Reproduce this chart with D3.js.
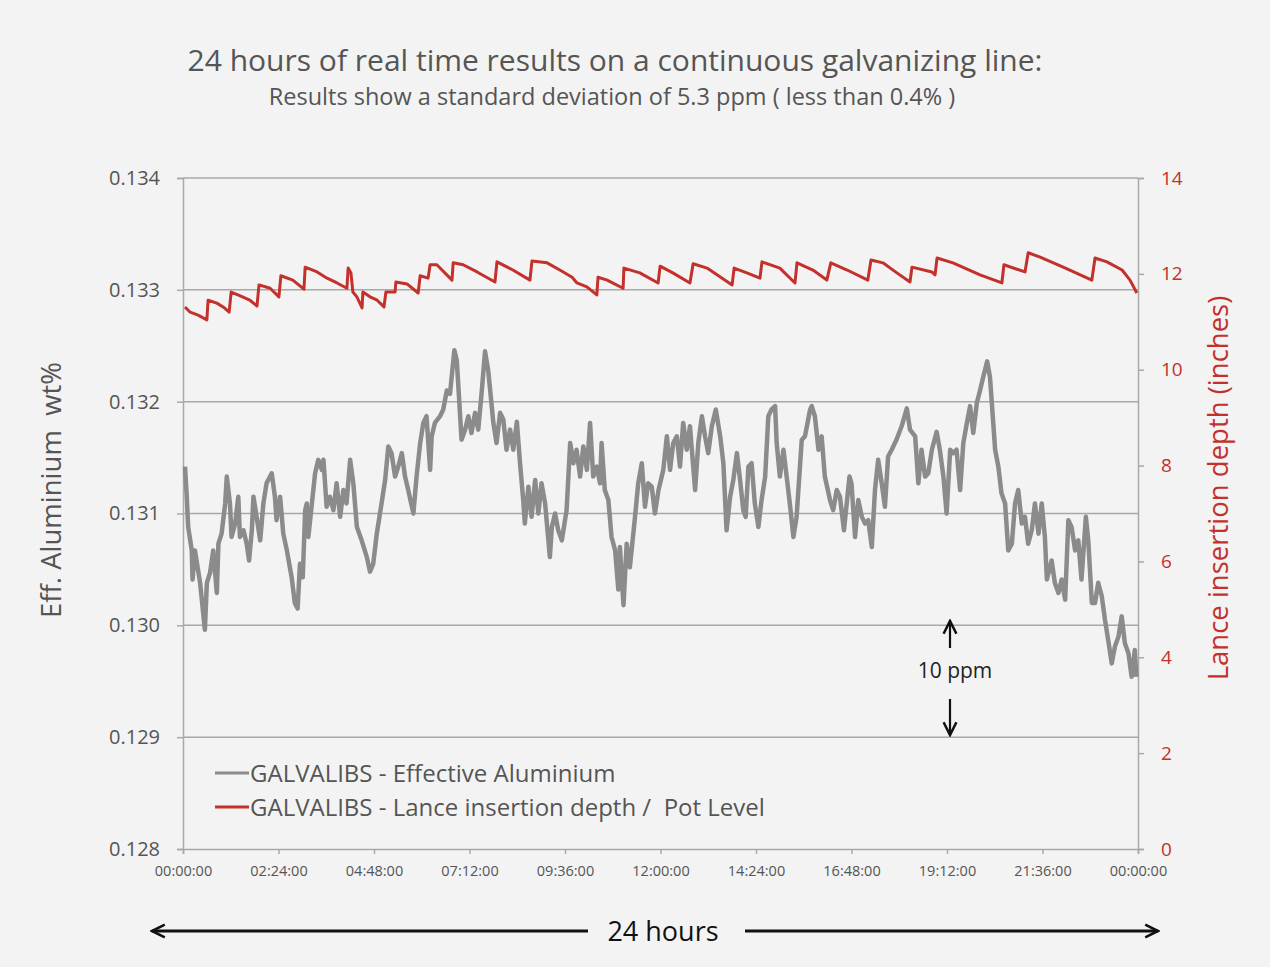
<!DOCTYPE html>
<html>
<head>
<meta charset="utf-8">
<script src="https://cdn.jsdelivr.net/npm/d3@7"></script>
<style>
html,body{margin:0;padding:0;background:#f3f3f3;}
svg{display:block;}
text{font-family:"Open Sans",sans-serif;white-space:pre;}
</style>
</head>
<body>
<svg id="chart" width="1270" height="967"></svg>
<script>
// ---- Data ----
const titleText = "24 hours of real time results on a continuous galvanizing line:";
const subtitleText = "Results show a standard deviation of 5.3 ppm ( less than 0.4% )";
const leftTicks = [0.128, 0.129, 0.130, 0.131, 0.132, 0.133, 0.134];
const rightTicks = [0, 2, 4, 6, 8, 10, 12, 14];
const timeTicks = [0, 2.4, 4.8, 7.2, 9.6, 12, 14.4, 16.8, 19.2, 21.6, 24];
const timeLabels = ["00:00:00","02:24:00","04:48:00","07:12:00","09:36:00","12:00:00","14:24:00","16:48:00","19:12:00","21:36:00","00:00:00"];
const seriesNames = ["GALVALIBS - Effective Aluminium", "GALVALIBS - Lance insertion depth /  Pot Level"];

// Effective aluminium (wt%) vs time (hours)
const alTime = [0.05,0.09,0.13,0.22,0.24,0.30,0.34,0.43,0.55,0.60,0.68,0.76,0.85,0.89,0.97,1.06,1.10,1.18,1.22,1.31,1.39,1.43,1.52,1.60,1.66,1.73,1.77,1.85,1.94,2.02,2.10,2.23,2.31,2.35,2.44,2.52,2.61,2.73,2.81,2.88,2.94,3.01,3.07,3.11,3.15,3.23,3.32,3.40,3.49,3.53,3.61,3.69,3.78,3.86,3.95,4.03,4.11,4.20,4.28,4.37,4.49,4.62,4.70,4.78,4.87,4.99,5.08,5.16,5.24,5.33,5.41,5.50,5.58,5.66,5.79,5.87,5.96,6.04,6.12,6.21,6.25,6.33,6.46,6.54,6.63,6.71,6.82,6.88,6.94,7.00,7.09,7.17,7.25,7.34,7.42,7.51,7.59,7.67,7.72,7.80,7.88,7.97,8.05,8.13,8.22,8.30,8.39,8.47,8.55,8.59,8.68,8.76,8.85,8.93,9.01,9.10,9.22,9.27,9.35,9.43,9.52,9.64,9.73,9.81,9.89,9.98,10.06,10.15,10.23,10.31,10.40,10.48,10.52,10.60,10.69,10.77,10.86,10.94,10.98,11.07,11.15,11.23,11.36,11.44,11.53,11.61,11.69,11.78,11.86,11.95,12.07,12.16,12.24,12.32,12.41,12.49,12.57,12.66,12.74,12.87,12.95,13.04,13.12,13.20,13.29,13.39,13.50,13.58,13.66,13.75,13.83,13.92,14.00,14.08,14.14,14.21,14.29,14.37,14.46,14.54,14.63,14.71,14.79,14.88,14.92,15.00,15.09,15.17,15.25,15.34,15.42,15.55,15.63,15.76,15.80,15.88,15.97,16.05,16.13,16.26,16.34,16.43,16.51,16.61,16.68,16.75,16.80,16.89,16.97,17.06,17.14,17.22,17.31,17.39,17.47,17.56,17.64,17.72,17.81,17.93,18.06,18.19,18.27,18.40,18.48,18.56,18.65,18.73,18.82,18.94,19.02,19.11,19.19,19.28,19.36,19.44,19.53,19.61,19.70,19.78,19.86,19.95,20.03,20.11,20.21,20.28,20.35,20.41,20.49,20.57,20.66,20.74,20.83,20.91,20.99,21.08,21.16,21.24,21.33,21.41,21.50,21.58,21.66,21.71,21.83,21.91,22.00,22.08,22.17,22.25,22.33,22.42,22.50,22.58,22.69,22.75,22.84,22.92,23.00,23.09,23.17,23.25,23.34,23.42,23.51,23.59,23.67,23.76,23.84,23.92,23.96];
const alValue = [0.13142,0.13118,0.13088,0.13067,0.13041,0.13067,0.13058,0.13038,0.12996,0.13038,0.13047,0.13067,0.13029,0.13073,0.13082,0.13109,0.13133,0.13109,0.13079,0.13091,0.13115,0.13079,0.13085,0.13073,0.13058,0.13085,0.13115,0.13097,0.13076,0.13109,0.13127,0.13136,0.13115,0.13094,0.13115,0.13082,0.13067,0.13043,0.13020,0.13015,0.13055,0.13043,0.13103,0.13109,0.13079,0.13106,0.13136,0.13148,0.13139,0.13148,0.13106,0.13115,0.13103,0.13127,0.13097,0.13121,0.13109,0.13148,0.13127,0.13088,0.13076,0.13061,0.13048,0.13055,0.13082,0.13109,0.13130,0.13160,0.13154,0.13133,0.13142,0.13154,0.13133,0.13121,0.13100,0.13133,0.13163,0.13181,0.13187,0.13139,0.13169,0.13181,0.13187,0.13193,0.13210,0.13207,0.13246,0.13237,0.13202,0.13166,0.13175,0.13187,0.13172,0.13190,0.13175,0.13210,0.13245,0.13228,0.13210,0.13181,0.13163,0.13190,0.13184,0.13157,0.13175,0.13157,0.13182,0.13145,0.13112,0.13091,0.13124,0.13097,0.13130,0.13100,0.13127,0.13109,0.13061,0.13088,0.13100,0.13085,0.13076,0.13103,0.13163,0.13145,0.13157,0.13133,0.13160,0.13139,0.13181,0.13133,0.13142,0.13127,0.13163,0.13121,0.13112,0.13079,0.13067,0.13032,0.13070,0.13018,0.13073,0.13052,0.13097,0.13127,0.13145,0.13106,0.13127,0.13124,0.13100,0.13121,0.13139,0.13169,0.13139,0.13163,0.13169,0.13142,0.13181,0.13157,0.13178,0.13121,0.13163,0.13187,0.13169,0.13154,0.13178,0.13193,0.13169,0.13145,0.13085,0.13115,0.13130,0.13154,0.13130,0.13103,0.13097,0.13142,0.13145,0.13109,0.13088,0.13112,0.13133,0.13187,0.13193,0.13196,0.13163,0.13133,0.13157,0.13133,0.13109,0.13079,0.13097,0.13166,0.13169,0.13193,0.13196,0.13187,0.13157,0.13169,0.13133,0.13112,0.13103,0.13121,0.13115,0.13085,0.13109,0.13133,0.13127,0.13079,0.13112,0.13097,0.13091,0.13094,0.13070,0.13121,0.13148,0.13127,0.13106,0.13151,0.13157,0.13166,0.13178,0.13194,0.13175,0.13169,0.13127,0.13157,0.13133,0.13136,0.13157,0.13173,0.13157,0.13133,0.13100,0.13157,0.13154,0.13157,0.13121,0.13163,0.13181,0.13196,0.13172,0.13199,0.13210,0.13222,0.13236,0.13222,0.13187,0.13157,0.13142,0.13118,0.13109,0.13067,0.13073,0.13109,0.13121,0.13091,0.13097,0.13073,0.13085,0.13109,0.13082,0.13109,0.13079,0.13041,0.13058,0.13038,0.13029,0.13041,0.13023,0.13094,0.13088,0.13067,0.13076,0.13041,0.13097,0.13076,0.13020,0.13020,0.13038,0.13026,0.13005,0.12987,0.12966,0.12981,0.12990,0.13008,0.12984,0.12975,0.12954,0.12978,0.12954];

// Lance insertion depth (inches) vs time (hours)
const lanceTime = [0.05,0.18,0.38,0.60,0.63,0.85,1.01,1.16,1.21,1.38,1.68,1.86,1.91,2.19,2.41,2.46,2.76,3.04,3.07,3.37,3.62,3.87,4.12,4.15,4.22,4.27,4.37,4.50,4.52,4.70,4.88,5.05,5.10,5.33,5.35,5.63,5.91,5.96,6.16,6.21,6.38,6.76,6.79,7.04,7.39,7.84,7.89,8.29,8.72,8.77,9.15,9.47,9.78,9.90,10.15,10.40,10.43,10.66,11.06,11.08,11.48,11.94,11.99,12.31,12.74,12.82,13.17,13.80,13.85,14.17,14.50,14.55,15.00,15.38,15.43,15.83,16.18,16.28,16.69,17.21,17.29,17.59,17.94,18.27,18.32,18.82,18.90,18.95,19.35,20.03,20.58,20.63,21.16,21.24,21.54,22.12,22.84,22.92,23.22,23.60,23.80,23.97];
const lanceValue = [11.31,11.20,11.14,11.04,11.45,11.39,11.31,11.20,11.62,11.56,11.45,11.33,11.77,11.70,11.52,11.96,11.87,11.68,12.14,12.04,11.91,11.81,11.70,12.12,12.02,11.62,11.52,11.29,11.62,11.52,11.45,11.31,11.62,11.62,11.83,11.79,11.60,11.96,11.91,12.19,12.19,11.87,12.23,12.19,12.04,11.83,12.25,12.08,11.87,12.27,12.23,12.08,11.93,11.81,11.73,11.56,11.93,11.87,11.70,12.12,12.02,11.81,12.16,12.02,11.81,12.21,12.12,11.77,12.12,12.02,11.91,12.25,12.12,11.81,12.23,12.08,11.87,12.23,12.08,11.87,12.29,12.23,12.02,11.83,12.14,12.04,11.98,12.33,12.23,11.98,11.81,12.19,12.04,12.44,12.35,12.14,11.87,12.33,12.25,12.08,11.87,11.60];

// ---- Drawing ----
const svg = d3.select("#chart");
const W = 1270, H = 967;
const m = {left:183, right:1138, top:178, bottom:849};
const textCol = "#555555";
const grayCol = "#8b8b8b";
const redCol = "#c4302b";
const axisCol = "#a8a8a8";

svg.append("rect").attr("width",W).attr("height",H).attr("fill","#f3f3f3");

const x = d3.scaleLinear().domain([0,24]).range([m.left,m.right]);
const yL = d3.scaleLinear().domain([0.128,0.134]).range([m.bottom,m.top]);
const yR = d3.scaleLinear().domain([0,14]).range([m.bottom,m.top]);

// Title
svg.append("text").attr("x",615).attr("y",71).attr("text-anchor","middle")
  .attr("font-size",30).attr("fill",textCol).text(titleText);
svg.append("text").attr("x",612).attr("y",105).attr("text-anchor","middle")
  .attr("font-size",23.5).attr("fill",textCol).text(subtitleText);

// Gridlines
svg.append("g").selectAll("line").data(leftTicks.slice(1)).join("line")
  .attr("x1",m.left).attr("x2",m.right)
  .attr("y1",d=>yL(d)).attr("y2",d=>yL(d))
  .attr("stroke",axisCol).attr("stroke-width",1.5);

// Left axis
const gL = svg.append("g").attr("transform",`translate(${m.left},0)`)
  .call(d3.axisLeft(yL).tickValues(leftTicks).tickFormat(d3.format(".3f")).tickSize(6).tickPadding(17));
gL.select(".domain").attr("stroke",axisCol).attr("stroke-width",1.5);
gL.selectAll(".tick line").attr("stroke",axisCol).attr("stroke-width",1.5);
gL.selectAll(".tick text").attr("fill",textCol).attr("font-size",20).attr("font-family","Open Sans, sans-serif");

// Right axis
const gR = svg.append("g").attr("transform",`translate(${m.right},0)`)
  .call(d3.axisRight(yR).tickValues(rightTicks).tickSize(6).tickPadding(17));
gR.select(".domain").attr("stroke",axisCol).attr("stroke-width",1.5);
gR.selectAll(".tick line").attr("stroke",axisCol).attr("stroke-width",1.5);
gR.selectAll(".tick text").attr("fill",redCol).attr("font-size",19).attr("font-family","Open Sans, sans-serif");

// Bottom axis
const gB = svg.append("g").attr("transform",`translate(0,${m.bottom})`)
  .call(d3.axisBottom(x).tickValues(timeTicks).tickFormat((d,i)=>timeLabels[i]).tickSize(5).tickPadding(12));
gB.select(".domain").attr("stroke",axisCol).attr("stroke-width",1.5);
gB.selectAll(".tick line").attr("stroke",axisCol).attr("stroke-width",1.5);
gB.selectAll(".tick text").attr("fill",textCol).attr("font-size",14.5).attr("font-family","Open Sans, sans-serif");

// Axis titles
svg.append("text").attr("transform","translate(61,490) rotate(-90)").attr("text-anchor","middle")
  .attr("font-size",27.5).attr("fill",textCol).text("Eff. Aluminium  wt%");
svg.append("text").attr("transform","translate(1228,488) rotate(-90)").attr("text-anchor","middle")
  .attr("font-size",27.5).attr("fill",redCol).text("Lance insertion depth (inches)");

// Series
const alData = alTime.map((t,i)=>[t,alValue[i]]);
const lanceData = lanceTime.map((t,i)=>[t,lanceValue[i]]);
svg.append("path").datum(alData)
  .attr("d", d3.line().x(d=>x(d[0])).y(d=>yL(d[1])))
  .attr("fill","none").attr("stroke",grayCol).attr("stroke-width",4.5).attr("stroke-linejoin","round");
svg.append("path").datum(lanceData)
  .attr("d", d3.line().x(d=>x(d[0])).y(d=>yR(d[1])))
  .attr("fill","none").attr("stroke",redCol).attr("stroke-width",3).attr("stroke-linejoin","round");

// Legend
const legendY = [773, 807];
const legendCols = [grayCol, redCol];
seriesNames.forEach((name,i)=>{
  svg.append("line").attr("x1",215).attr("x2",249).attr("y1",legendY[i]).attr("y2",legendY[i])
    .attr("stroke",legendCols[i]).attr("stroke-width",3);
  svg.append("text").attr("x",250).attr("y",legendY[i]+9).attr("font-size",24).attr("fill",textCol).text(name);
});

// Arrow markers
const defs = svg.append("defs");
defs.append("marker").attr("id","ahBig").attr("viewBox","0 0 10 10").attr("refX",9).attr("refY",5)
  .attr("markerWidth",16).attr("markerHeight",16).attr("markerUnits","userSpaceOnUse")
  .attr("orient","auto")
  .append("path").attr("d","M1,1 L9,5 L1,9").attr("fill","none").attr("stroke","#111").attr("stroke-width",1.6);

// 10 ppm annotation
svg.append("line").attr("x1",950).attr("x2",950).attr("y1",648).attr("y2",621)
  .attr("stroke","#111").attr("stroke-width",2.2).attr("marker-end","url(#ahBig)");
svg.append("line").attr("x1",950).attr("x2",950).attr("y1",699).attr("y2",735)
  .attr("stroke","#111").attr("stroke-width",2.2).attr("marker-end","url(#ahBig)");
svg.append("text").attr("x",955).attr("y",678).attr("text-anchor","middle")
  .attr("font-size",21).attr("fill","#222").text("10 ppm");

// 24 hours arrow
svg.append("line").attr("x1",588).attr("x2",152).attr("y1",931).attr("y2",931)
  .attr("stroke","#111").attr("stroke-width",3).attr("marker-end","url(#ahBig)");
svg.append("line").attr("x1",745).attr("x2",1158).attr("y1",931).attr("y2",931)
  .attr("stroke","#111").attr("stroke-width",3).attr("marker-end","url(#ahBig)");
svg.append("text").attr("x",663).attr("y",941).attr("text-anchor","middle")
  .attr("font-size",27).attr("fill","#111").text("24 hours");
</script>
</body>
</html>
